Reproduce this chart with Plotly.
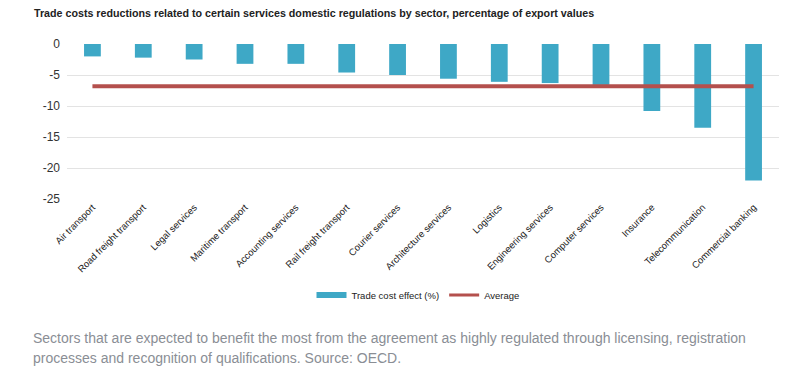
import plotly.graph_objects as go

sectors = [
    "Air transport", "Road freight transport", "Legal services", "Maritime transport",
    "Accounting services", "Rail freight transport", "Courier services",
    "Architecture services", "Logistics", "Engineering services", "Computer services",
    "Insurance", "Telecommunication", "Commercial banking",
]
trade_cost_effect = [-2.0, -2.2, -2.5, -3.2, -3.2, -4.6, -5.0, -5.6, -6.1, -6.3, -6.6, -10.8, -13.5, -22.0]
average_value = -6.8
average = [average_value] * len(sectors)
y_ticks = [0, -5, -10, -15, -20, -25]

BAR = "#3ea8c6"
AVG = "#b4504d"
SANS = "Liberation Sans, Arial, sans-serif"

fig = go.Figure()
fig.add_trace(go.Bar(
    x=sectors, y=trade_cost_effect, marker=dict(color=BAR, line=dict(width=0)),
    showlegend=False, name="Trade cost effect (%)",
))
fig.add_trace(go.Scatter(
    x=sectors, y=average, mode="lines", line=dict(color=AVG, width=4),
    showlegend=False, name="Average",
))
# legend-only entries (wide swatches as in the original)
fig.add_trace(go.Scatter(
    x=[None], y=[None], mode="lines", line=dict(color=BAR, width=6),
    name="Trade cost effect (%)",
))
fig.add_trace(go.Scatter(
    x=[None], y=[None], mode="lines", line=dict(color=AVG, width=3),
    name="Average",
))

# the page body has an 8px margin: compensate so the figure sits where the original does
OFF = 8
W, H = 790 - OFF, 390 - OFF
ml, mr, mt, mb = 67 - OFF, 11, 44 - OFF, 191
ph = H - mt - mb
pw = W - ml - mr

def px_x(x):  # page x -> paper x
    return (x - OFF - ml) / pw

def px_y(y):  # page y -> paper y
    return (H - mb - (y - OFF)) / ph

fig.update_layout(
    width=W, height=H,
    margin=dict(l=ml, r=mr, t=mt, b=mb),
    paper_bgcolor="white", plot_bgcolor="white",
    bargap=0.67,
    title=dict(
        text="<b>Trade costs reductions related to certain services domestic regulations by sector, percentage of export values</b>",
        xref="container", yref="container", x=(34 - OFF) / W, y=1 - (13 - OFF) / H,
        xanchor="left", yanchor="middle",
        font=dict(family=SANS, size=10.7, color="#222222"),
    ),
    xaxis=dict(
        tickangle=-45, tickfont=dict(family=SANS, size=9.5, color="#222222"),
        showgrid=False, showline=False, ticks="",
    ),
    yaxis=dict(
        range=[-25, 0], tickvals=y_ticks, ticktext=[str(v) for v in y_ticks],
        showgrid=True, gridcolor="#e3e3e3", gridwidth=1,
        zeroline=False, showline=False, ticks="", ticklabelstandoff=6,
        tickfont=dict(family=SANS, size=12, color="#333333"),
    ),
    legend=dict(
        orientation="h", x=px_x(418), xanchor="center",
        y=px_y(295), yanchor="middle",
        font=dict(family=SANS, size=9.5, color="#222222"),
        itemwidth=30, bgcolor="rgba(0,0,0,0)",
    ),
    showlegend=True,
)

fig.add_annotation(
    text="Sectors that are expected to benefit the most from the agreement as highly regulated through licensing, registration",
    xref="paper", yref="paper", x=px_x(31), y=px_y(338),
    xanchor="left", yanchor="middle", showarrow=False, align="left",
    font=dict(family=SANS, size=14, color="#8a8e95"),
)
fig.add_annotation(
    text="processes and recognition of qualifications. Source: OECD.",
    xref="paper", yref="paper", x=px_x(31), y=px_y(358),
    xanchor="left", yanchor="middle", showarrow=False, align="left",
    font=dict(family=SANS, size=14, color="#8a8e95"),
)

fig.write_html("out.html")
